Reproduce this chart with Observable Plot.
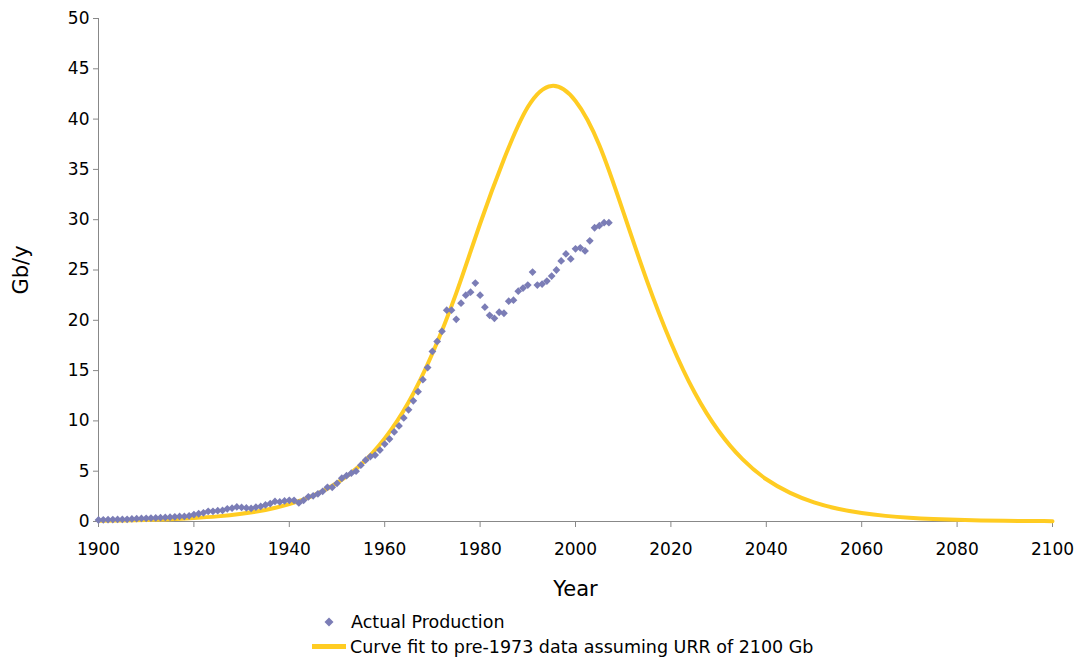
<!DOCTYPE html>
<html>
<head>
<meta charset="utf-8">
<script src="https://cdn.jsdelivr.net/npm/d3@7"></script>
<script src="https://cdn.jsdelivr.net/npm/@observablehq/plot@0.6"></script>
<style>
  html, body { margin: 0; padding: 0; background: #fff; }
  #wrap { position: relative; width: 1082px; height: 660px; font-family: "DejaVu Sans", sans-serif; }
  #chart svg { display: block; }
  [aria-label="y-axis label"] text, [aria-label="x-axis label"] text { font-size: 21px; }
  #legend { position: absolute; left: 0; top: 600px; width: 1082px; height: 60px; font-size: 17.5px; color: #000; }
  .lg-text { position: absolute; line-height: 22px; white-space: nowrap; }
</style>
</head>
<body>
<div id="wrap">
  <div id="chart"></div>
  <div id="legend"></div>
</div>
<script>
// ---- Data ----
const prodYears = d3.range(1900, 2008);
const prodValues = [
  0.15, 0.17, 0.18, 0.19, 0.21, 0.21, 0.22, 0.26, 0.28, 0.30,
  0.32, 0.34, 0.35, 0.38, 0.40, 0.43, 0.46, 0.50, 0.50, 0.56,
  0.69, 0.77, 0.86, 1.01, 1.01, 1.07, 1.10, 1.26, 1.32, 1.45,
  1.40, 1.35, 1.30, 1.42, 1.50, 1.65, 1.78, 2.00, 1.95, 2.05,
  2.10, 2.10, 1.85, 2.10, 2.45, 2.55, 2.75, 3.00, 3.40, 3.40,
  3.80, 4.30, 4.55, 4.80, 5.00, 5.60, 6.10, 6.45, 6.60, 7.10,
  7.70, 8.20, 8.90, 9.50, 10.3, 11.1, 12.0, 12.9, 14.1, 15.3,
  16.9, 17.9, 18.9, 21.0, 21.0, 20.1, 21.7, 22.5, 22.8, 23.7,
  22.5, 21.3, 20.5, 20.2, 20.8, 20.7, 21.9, 22.0, 22.9, 23.2,
  23.5, 24.8, 23.5, 23.6, 23.9, 24.4, 25.0, 25.9, 26.6, 26.1,
  27.1, 27.2, 26.9, 27.9, 29.2, 29.4, 29.7, 29.7
];
const fitYears = d3.range(1900, 2101, 5);
const fitValues = [
  0.07, 0.10, 0.15, 0.22, 0.34, 0.51, 0.77, 1.15, 1.72, 2.57,
  3.83, 5.65, 8.25, 11.85, 16.7, 22.7, 29.6, 36.0, 41.2, 43.3,
  41.8, 37.4, 30.8, 23.9, 17.8, 12.8, 9.0, 6.2, 4.2, 2.85,
  1.9, 1.27, 0.85, 0.56, 0.37, 0.25, 0.17, 0.11, 0.07, 0.05, 0.03
];
const xTicks = [1900, 1920, 1940, 1960, 1980, 2000, 2020, 2040, 2060, 2080, 2100];
const yTicks = [0, 5, 10, 15, 20, 25, 30, 35, 40, 45, 50];
const seriesNames = ["Actual Production", "Curve fit to pre-1973 data assuming URR of 2100 Gb"];
const colors = { prod: "#7b7db6", fit: "#ffcc22" };

const prod = prodYears.map((y, i) => ({ year: y, value: prodValues[i] }));
const fit = fitYears.map((y, i) => ({ year: y, value: fitValues[i] }));

const chart = Plot.plot({
  width: 1082,
  height: 600,
  marginLeft: 98,
  marginRight: 30,
  marginTop: 18,
  marginBottom: 79,
  style: { fontFamily: "DejaVu Sans, sans-serif", fontSize: "17px", color: "#000", background: "#fff" },
  x: { domain: [1900, 2100] },
  y: { domain: [0, 50] },
  marks: [
    Plot.axisY(yTicks, { tickSize: 5, tickPadding: 4, stroke: "#888", fill: "#000",
      label: "Gb/y", labelAnchor: "center", labelOffset: 85, labelArrow: "none" }),
    Plot.axisX(xTicks, { tickSize: 6, tickPadding: 15, stroke: "#888", fill: "#000", tickFormat: "d",
      label: "Year", labelAnchor: "center", labelOffset: 74, labelArrow: "none" }),
    Plot.ruleX([1900], { stroke: "#888" }),
    Plot.ruleY([0], { stroke: "#888" }),
    Plot.line(fit, { x: "year", y: "value", stroke: colors.fit, strokeWidth: 4, curve: "natural" }),
    Plot.dot(prod, { x: "year", y: "value", symbol: d3.symbolDiamond2, r: 3.5, fill: colors.prod, stroke: "none" })
  ]
});
document.getElementById("chart").appendChild(chart);

// ---- Legend (HTML, below the SVG) ----
const lg = document.getElementById("legend");
lg.innerHTML = `
  <svg style="position:absolute;left:323px;top:16px" width="12" height="12"><path d="M6,1.5L10.5,6L6,10.5L1.5,6Z" fill="${colors.prod}"/></svg>
  <div class="lg-text" style="left:351px;top:11px">${seriesNames[0]}</div>
  <div style="position:absolute;left:312px;top:44px;width:34px;height:5px;background:${colors.fit}"></div>
  <div class="lg-text" style="left:350px;top:36px">${seriesNames[1]}</div>
`;
</script>
</body>
</html>
